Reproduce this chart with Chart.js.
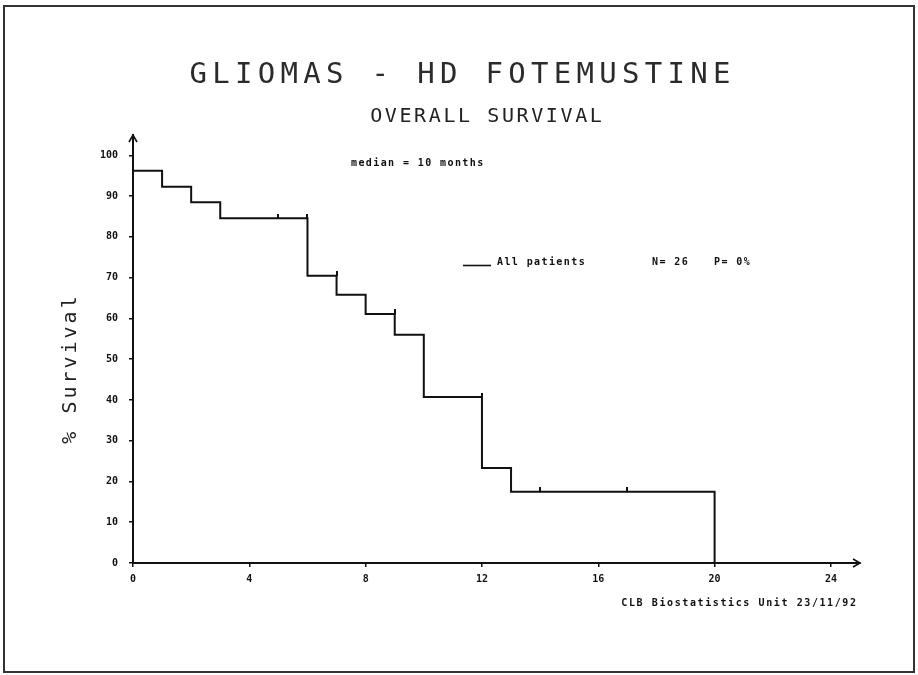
<!DOCTYPE html>
<html>
<head>
<meta charset="utf-8">
<title>Gliomas - HD Fotemustine: overall survival</title>
<script src="https://cdn.jsdelivr.net/npm/chart.js@4.4.1/dist/chart.umd.min.js"></script>
<style>
  html, body { margin: 0; padding: 0; background: #ffffff; }
  canvas { display: block; }
</style>
</head>
<body>
<canvas id="km" width="918" height="675"></canvas>
<script>
// Kaplan-Meier survival estimate (months, % surviving after each step)
const stepMonths   = [0, 1, 2, 3, 6, 7, 8, 9, 10, 12, 13, 20];
const stepSurvival = [96.2, 92.3, 88.5, 84.6, 70.5, 65.8, 61.1, 56.0, 40.7, 23.3, 17.5, 0];

// censored observations
const censorMonths   = [5, 6, 7, 9, 12, 14, 17];
const censorSurvival = [84.6, 84.6, 70.5, 61.1, 40.7, 17.5, 17.5];

// axis ticks
const monthTicks    = [0, 4, 8, 12, 16, 20, 24];
const survivalTicks = [0, 10, 20, 30, 40, 50, 60, 70, 80, 90, 100];

// texts
const titleText    = 'GLIOMAS - HD FOTEMUSTINE';
const subtitleText = 'OVERALL SURVIVAL';
const yAxisText    = '% Survival';
const medianText   = 'median = 10 months';
const seriesLabel  = 'All patients';
const seriesN      = 'N= 26';
const seriesP      = 'P= 0%';
const footerText   = 'CLB Biostatistics Unit 23/11/92';

const INK = '#111111';
const MONO = '"DejaVu Sans Mono", "Liberation Mono", monospace';

// censor mark: short vertical tick rising above the curve
const censorMark = document.createElement('canvas');
censorMark.width = 2;
censorMark.height = 9;
(function () {
  const g = censorMark.getContext('2d');
  g.fillStyle = INK;
  g.fillRect(0, 0, 2, 5);
})();

function spacedText(ctx, text, x, y, font, spacing, align, color) {
  ctx.save();
  ctx.font = font;
  ctx.letterSpacing = spacing + 'px';
  ctx.fillStyle = color || INK;
  ctx.textAlign = 'left';
  const w = ctx.measureText(text).width - spacing;
  let sx = x;
  if (align === 'center') sx = x - w / 2;
  else if (align === 'right') sx = x - w;
  ctx.fillText(text, sx, y);
  ctx.restore();
}

const decorations = {
  id: 'decorations',
  beforeDraw(chart) {
    const ctx = chart.ctx;
    ctx.save();
    ctx.fillStyle = '#ffffff';
    ctx.fillRect(0, 0, chart.width, chart.height);
    ctx.restore();
  },
  afterDraw(chart) {
    const ctx = chart.ctx;
    const xs = chart.scales.x;
    const ys = chart.scales.y;

    // page frame
    ctx.save();
    ctx.strokeStyle = '#333333';
    ctx.lineWidth = 2;
    ctx.strokeRect(4, 6, 910, 666);
    ctx.restore();

    // titles
    ctx.save();
    ctx.textBaseline = 'alphabetic';
    spacedText(ctx, titleText, 460, 83, '29px ' + MONO, 5.3, 'center', '#2b2b2b');
    spacedText(ctx, subtitleText, 486, 122, '20px ' + MONO, 2.6, 'center', '#222222');
    ctx.restore();

    // vertical axis title
    ctx.save();
    ctx.translate(71, 370);
    ctx.rotate(-Math.PI / 2);
    ctx.textBaseline = 'middle';
    spacedText(ctx, yAxisText, 0, 0, '20px ' + MONO, 3, 'center', '#222222');
    ctx.restore();

    // axis arrows
    const x0 = xs.left, yb = ys.bottom, xr = xs.right, yt = ys.top;
    ctx.save();
    ctx.strokeStyle = INK;
    ctx.lineWidth = 1.6;
    ctx.beginPath();
    ctx.moveTo(xr - 7, yb - 4); ctx.lineTo(xr, yb); ctx.lineTo(xr - 7, yb + 4);
    ctx.moveTo(x0 - 4, yt + 7); ctx.lineTo(x0, yt); ctx.lineTo(x0 + 4, yt + 7);
    ctx.stroke();
    ctx.restore();

    // annotations
    const small = 'bold 10px ' + MONO;
    ctx.save();
    ctx.textBaseline = 'middle';
    spacedText(ctx, medianText, 351, 163, small, 1.4, 'left');

    // series key
    const ds = chart.data.datasets[0];
    ctx.strokeStyle = ds.borderColor;
    ctx.lineWidth = 1.6;
    ctx.beginPath();
    ctx.moveTo(463, 265.5);
    ctx.lineTo(491, 265.5);
    ctx.stroke();
    spacedText(ctx, ds.label, 497, 262, small, 1.4, 'left');
    spacedText(ctx, seriesN, 652, 262, small, 1.4, 'left');
    spacedText(ctx, seriesP, 714, 262, small, 1.4, 'left');

    // footer
    spacedText(ctx, footerText, 856, 603, small, 1.6, 'right');
    ctx.restore();
  }
};

const tickFont = { family: MONO, size: 10, weight: 'bold' };

new Chart(document.getElementById('km'), {
  type: 'line',
  data: {
    datasets: [
      {
        label: seriesLabel,
        data: stepMonths.map((m, i) => ({ x: m, y: stepSurvival[i] })),
        stepped: true,
        borderColor: INK,
        borderWidth: 2,
        pointRadius: 0,
        fill: false,
        tension: 0
      },
      {
        label: 'censored',
        type: 'scatter',
        data: censorMonths.map((m, i) => ({ x: m, y: censorSurvival[i] })),
        pointStyle: censorMark,
        pointRadius: 3,
        showLine: false
      }
    ]
  },
  options: {
    responsive: false,
    devicePixelRatio: 1,
    animation: false,
    events: [],
    layout: { padding: { top: 135, right: 58, left: 0, bottom: 0 } },
    plugins: {
      legend: { display: false },
      title: { display: false },
      tooltip: { enabled: false }
    },
    scales: {
      x: {
        type: 'linear',
        min: 0,
        max: 25,
        afterBuildTicks: s => { s.ticks = monthTicks.map(v => ({ value: v })); },
        afterFit: s => { s.height = 112; },
        grid: { display: true, drawOnChartArea: false, drawTicks: true, tickLength: 4, color: INK, lineWidth: 1.5 },
        border: { display: true, color: INK, width: 2 },
        ticks: { font: tickFont, color: INK, padding: 6, maxRotation: 0, autoSkip: false }
      },
      y: {
        type: 'linear',
        min: 0,
        max: 105,
        afterBuildTicks: s => { s.ticks = survivalTicks.map(v => ({ value: v })); },
        afterFit: s => { s.width = 133; },
        grid: { display: true, drawOnChartArea: false, drawTicks: true, tickLength: 4, color: INK, lineWidth: 1.5 },
        border: { display: true, color: INK, width: 2 },
        ticks: { font: tickFont, color: INK, padding: 11, autoSkip: false }
      }
    }
  },
  plugins: [decorations]
});
</script>
</body>
</html>
